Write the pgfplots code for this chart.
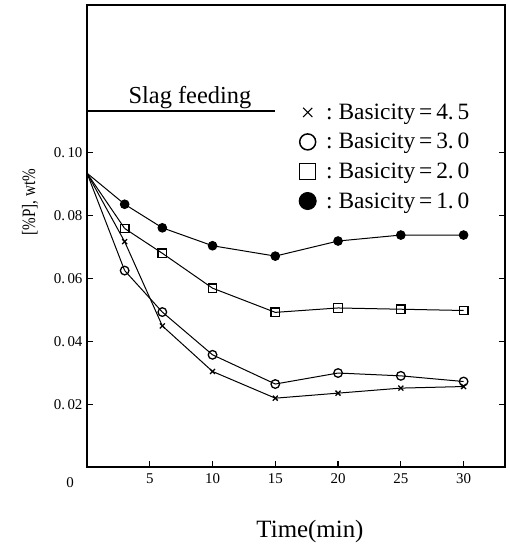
\documentclass[border=0pt]{standalone}
\usepackage{pgfplots}
\pgfplotsset{compat=1.18}
\usepackage{fontspec}
\setmainfont{Liberation Serif}
\begin{document}
\begin{tikzpicture}
\useasboundingbox (0,0) rectangle (510bp,544bp);
\begin{axis}[
  at={(87bp,77bp)}, anchor=south west,
  scale only axis, width=418bp, height=462bp,
  xmin=0, xmax=33.3, ymin=0, ymax=0.147,
  xtick={5,10,15,20,25,30}, xticklabels={5,10,15,20,25,30},
  ytick={0.02,0.04,0.06,0.08,0.10},
  yticklabels={0.\,02,0.\,04,0.\,06,0.\,08,0.\,10},
  xtick pos=bottom, ytick pos=both, tick align=inside,
  major tick length=6bp,
  tick style={line width=1.2bp, black},
  axis line style={line width=1.6bp},
  ticklabel style={font=\fontsize{15}{15}\selectfont},
  xticklabel style={yshift=-3bp},
  yticklabel style={xshift=-1bp},
  /pgf/number format/assume math mode=true,
  clip=false,
  legend style={draw=none, fill=none, at={(0.5,0.795)}, anchor=north west,
    font=\fontsize{23.5}{26}\selectfont, row sep=8.5bp},
  legend cell align=left,
  legend image code/.code={\draw[#1] plot coordinates {(0bp,0bp)};},
]
% initial segments from common start
\addplot[black, line width=1bp, forget plot] coordinates {(0,0.0935) (3,0.0717)};
\addplot[black, line width=1bp, forget plot] coordinates {(0,0.0935) (3,0.0625)};
\addplot[black, line width=1bp, forget plot] coordinates {(0,0.0935) (3,0.0759)};
\addplot[black, line width=1bp, forget plot] coordinates {(0,0.0935) (3,0.0836)};
% slag feeding bar
\addplot[black, line width=1.3bp, forget plot] coordinates {(0,0.1133) (15,0.1133)};

\addplot[black, line width=1bp, mark=x, mark size=3.5bp, mark options={line width=1.3bp},
  legend image post style={mark size=6.5bp, mark options={line width=1bp}}]
  coordinates {(3,0.0717) (6,0.0449) (10,0.0304) (15,0.0219) (20,0.0235) (25,0.0251) (30,0.0256)};
\addlegendentry{\hspace{8bp}:\ Basicity\,=\,4.\,5}
\addplot[black, line width=1bp, mark=o, mark size=4.3bp, mark options={line width=1.3bp, fill=white},
  legend image post style={mark size=8bp, mark options={line width=1.5bp, fill=white}}]
  coordinates {(3,0.0625) (6,0.0493) (10,0.0357) (15,0.0264) (20,0.0299) (25,0.0290) (30,0.0272)};
\addlegendentry{\hspace{8bp}:\ Basicity\,=\,3.\,0}
\addplot[black, line width=1bp, mark=square, mark size=4.3bp, mark options={line width=1.3bp, fill=white},
  legend image post style={mark size=8bp, mark options={line width=1bp, fill=white}}]
  coordinates {(3,0.0759) (6,0.0680) (10,0.0569) (15,0.0492) (20,0.0506) (25,0.0502) (30,0.0498)};
\addlegendentry{\hspace{8bp}:\ Basicity\,=\,2.\,0}
\addplot[black, line width=1bp, mark=*, mark size=4.3bp,
  legend image post style={mark size=8.5bp}]
  coordinates {(3,0.0836) (6,0.0761) (10,0.0704) (15,0.0671) (20,0.0719) (25,0.0738) (30,0.0738)};
\addlegendentry{\hspace{8bp}:\ Basicity\,=\,1.\,0}

\node[anchor=south, font=\fontsize{24.5}{26}\selectfont, inner sep=2bp] at (axis cs:8.2,0.1133) {Slag feeding};
\end{axis}
\node[font=\fontsize{15}{15}\selectfont] at (70bp,61bp) {0};
\node[rotate=90, font=\fontsize{19}{20}\selectfont] at (30bp,342bp) {\scalebox{0.8}[1]{[\%P], wt\%}};
\node[font=\fontsize{25}{27}\selectfont] at (310bp,12bp) {Time(min)};
\end{tikzpicture}
\end{document}
